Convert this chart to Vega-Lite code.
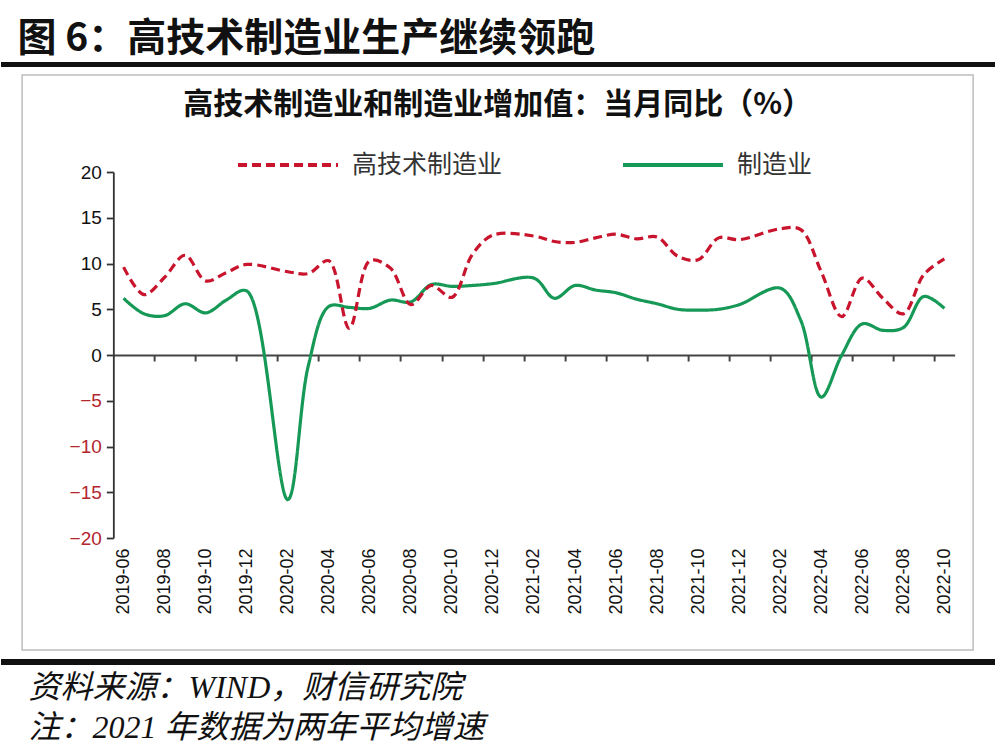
{
  "$schema": "https://vega.github.io/schema/vega-lite/v6.json",
  "padding": {"top": 19, "left": 0, "right": 0, "bottom": 0},
  "background": "white",
  "datasets": {
    "d": [
      {"month": "2019-06", "series": "制造业", "value": 6.2},
      {"month": "2019-07", "series": "制造业", "value": 4.5},
      {"month": "2019-08", "series": "制造业", "value": 4.3},
      {"month": "2019-09", "series": "制造业", "value": 5.6},
      {"month": "2019-10", "series": "制造业", "value": 4.6},
      {"month": "2019-11", "series": "制造业", "value": 6.0},
      {"month": "2019-12", "series": "制造业", "value": 7.0},
      {"month": "2020-02", "series": "制造业", "value": -15.8},
      {"month": "2020-03", "series": "制造业", "value": -1.2},
      {"month": "2020-04", "series": "制造业", "value": 5.3},
      {"month": "2020-05", "series": "制造业", "value": 5.2},
      {"month": "2020-06", "series": "制造业", "value": 5.1},
      {"month": "2020-07", "series": "制造业", "value": 6.0},
      {"month": "2020-08", "series": "制造业", "value": 5.8},
      {"month": "2020-09", "series": "制造业", "value": 7.7},
      {"month": "2020-10", "series": "制造业", "value": 7.5},
      {"month": "2020-11", "series": "制造业", "value": 7.6},
      {"month": "2020-12", "series": "制造业", "value": 7.8},
      {"month": "2021-02", "series": "制造业", "value": 8.4},
      {"month": "2021-03", "series": "制造业", "value": 6.2},
      {"month": "2021-04", "series": "制造业", "value": 7.6},
      {"month": "2021-05", "series": "制造业", "value": 7.1},
      {"month": "2021-06", "series": "制造业", "value": 6.8},
      {"month": "2021-07", "series": "制造业", "value": 6.1},
      {"month": "2021-08", "series": "制造业", "value": 5.6},
      {"month": "2021-09", "series": "制造业", "value": 5.0},
      {"month": "2021-10", "series": "制造业", "value": 4.9},
      {"month": "2021-11", "series": "制造业", "value": 5.0},
      {"month": "2021-12", "series": "制造业", "value": 5.5},
      {"month": "2022-02", "series": "制造业", "value": 7.3},
      {"month": "2022-03", "series": "制造业", "value": 3.8},
      {"month": "2022-04", "series": "制造业", "value": -4.6},
      {"month": "2022-05", "series": "制造业", "value": 0.0},
      {"month": "2022-06", "series": "制造业", "value": 3.4},
      {"month": "2022-07", "series": "制造业", "value": 2.7},
      {"month": "2022-08", "series": "制造业", "value": 3.0},
      {"month": "2022-09", "series": "制造业", "value": 6.4},
      {"month": "2022-10", "series": "制造业", "value": 5.1},
      {"month": "2019-06", "series": "高技术制造业", "value": 9.6},
      {"month": "2019-07", "series": "高技术制造业", "value": 6.6},
      {"month": "2019-08", "series": "高技术制造业", "value": 8.5},
      {"month": "2019-09", "series": "高技术制造业", "value": 10.9},
      {"month": "2019-10", "series": "高技术制造业", "value": 8.1},
      {"month": "2019-11", "series": "高技术制造业", "value": 9.0},
      {"month": "2019-12", "series": "高技术制造业", "value": 9.9},
      {"month": "2020-02", "series": "高技术制造业", "value": 9.1},
      {"month": "2020-03", "series": "高技术制造业", "value": 8.9},
      {"month": "2020-04", "series": "高技术制造业", "value": 10.3},
      {"month": "2020-05", "series": "高技术制造业", "value": 2.9},
      {"month": "2020-06", "series": "高技术制造业", "value": 10.3},
      {"month": "2020-07", "series": "高技术制造业", "value": 9.5},
      {"month": "2020-08", "series": "高技术制造业", "value": 5.5},
      {"month": "2020-09", "series": "高技术制造业", "value": 7.6},
      {"month": "2020-10", "series": "高技术制造业", "value": 6.3},
      {"month": "2020-11", "series": "高技术制造业", "value": 11.0},
      {"month": "2020-12", "series": "高技术制造业", "value": 13.1},
      {"month": "2021-02", "series": "高技术制造业", "value": 13.0},
      {"month": "2021-03", "series": "高技术制造业", "value": 12.4},
      {"month": "2021-04", "series": "高技术制造业", "value": 12.3},
      {"month": "2021-05", "series": "高技术制造业", "value": 12.8},
      {"month": "2021-06", "series": "高技术制造业", "value": 13.2},
      {"month": "2021-07", "series": "高技术制造业", "value": 12.7},
      {"month": "2021-08", "series": "高技术制造业", "value": 12.9},
      {"month": "2021-09", "series": "高技术制造业", "value": 10.8},
      {"month": "2021-10", "series": "高技术制造业", "value": 10.4},
      {"month": "2021-11", "series": "高技术制造业", "value": 12.8},
      {"month": "2021-12", "series": "高技术制造业", "value": 12.6},
      {"month": "2022-02", "series": "高技术制造业", "value": 13.8},
      {"month": "2022-03", "series": "高技术制造业", "value": 13.7},
      {"month": "2022-04", "series": "高技术制造业", "value": 9.1},
      {"month": "2022-05", "series": "高技术制造业", "value": 4.2},
      {"month": "2022-06", "series": "高技术制造业", "value": 8.4},
      {"month": "2022-07", "series": "高技术制造业", "value": 6.2},
      {"month": "2022-08", "series": "高技术制造业", "value": 4.5},
      {"month": "2022-09", "series": "高技术制造业", "value": 8.8},
      {"month": "2022-10", "series": "高技术制造业", "value": 10.5}
    ]
  },
  "title": {
    "text": "图 6：高技术制造业生产继续领跑",
    "anchor": "start",
    "dx": 17,
    "font": "Noto Sans CJK SC",
    "fontSize": 39,
    "fontWeight": "bold",
    "color": "#111111",
    "offset": 3
  },
  "spacing": 7,
  "center": true,
  "vconcat": [
    {
      "width": 994,
      "height": 5,
      "data": {"name": "d"},
      "view": {"fill": "#111111", "stroke": null},
      "mark": {"type": "rule", "opacity": 0},
      "encoding": {}
    },
    {
      "width": 951,
      "height": 575,
      "data": {"name": "d"},
      "view": {"stroke": "#bdbdbd", "strokeWidth": 1.5},
      "title": {
        "text": "高技术制造业和制造业增加值：当月同比（%）",
        "anchor": "middle",
        "font": "Noto Sans CJK SC",
        "fontSize": 30,
        "fontWeight": "bold",
        "color": "#111111",
        "offset": -45
      },
      "layer": [
        {
          "mark": {"type": "line", "interpolate": "catmull-rom", "strokeWidth": 3.2},
          "encoding": {
            "x": {
              "field": "month",
              "type": "ordinal",
              "scale": {
                "type": "point",
                "padding": 0.5,
                "range": [91.2, 932.5],
                "domain": ["2019-06","2019-07","2019-08","2019-09","2019-10","2019-11","2019-12","2020-01","2020-02","2020-03","2020-04","2020-05","2020-06","2020-07","2020-08","2020-09","2020-10","2020-11","2020-12","2021-01","2021-02","2021-03","2021-04","2021-05","2021-06","2021-07","2021-08","2021-09","2021-10","2021-11","2021-12","2022-01","2022-02","2022-03","2022-04","2022-05","2022-06","2022-07","2022-08","2022-09","2022-10"]
              },
              "axis": {
                "orient": "bottom",
                "offset": -112,
                "domain": false,
                "ticks": false,
                "grid": false,
                "labelAngle": -90,
                "labelPadding": 10,
                "labelFont": "Liberation Sans",
                "labelFontSize": 18,
                "labelColor": "#111111",
                "labelOverlap": false,
                "title": null,
                "values": ["2019-06","2019-08","2019-10","2019-12","2020-02","2020-04","2020-06","2020-08","2020-10","2020-12","2021-02","2021-04","2021-06","2021-08","2021-10","2021-12","2022-02","2022-04","2022-06","2022-08","2022-10"]
              }
            },
            "y": {
              "field": "value",
              "type": "quantitative",
              "scale": {"domain": [-20, 20], "range": [463, 97], "nice": false, "zero": false},
              "axis": {
                "orient": "left",
                "offset": -91.2,
                "values": [-20, -15, -10, -5, 0, 5, 10, 15, 20],
                "grid": false,
                "domainColor": "#333333",
                "domainWidth": 1.8,
                "tickColor": "#333333",
                "tickWidth": 1.8,
                "tickSize": 7,
                "labelPadding": 5,
                "labelFont": "Liberation Sans",
                "labelFontSize": 19,
                "labelColor": {"condition": {"test": "datum.value < 0", "value": "#b3262e"}, "value": "#111111"},
                "title": null
              }
            },
            "color": {
              "field": "series",
              "type": "nominal",
              "scale": {"domain": ["高技术制造业", "制造业"], "range": ["#c8142c", "#169956"]},
              "legend": {
                "orient": "none",
                "legendX": 235,
                "legendY": 51,
                "direction": "horizontal",
                "title": null,
                "symbolType": "stroke",
                "symbolSize": 10000,
                "symbolStrokeWidth": 3.8,
                "labelFont": "Noto Sans CJK SC",
                "labelFontSize": 25,
                "labelColor": "#333333",
                "labelOffset": 12,
                "columnPadding": 112,
                "labelLimit": 300
              }
            },
            "strokeDash": {
              "field": "series",
              "type": "nominal",
              "scale": {"domain": ["高技术制造业", "制造业"], "range": [[9, 5], [1, 0]]},
              "legend": {
                "orient": "none",
                "legendX": 235,
                "legendY": 51,
                "direction": "horizontal",
                "title": null,
                "symbolType": "stroke",
                "symbolSize": 10000,
                "symbolStrokeWidth": 3.8,
                "labelFont": "Noto Sans CJK SC",
                "labelFontSize": 25,
                "labelColor": "#333333",
                "labelOffset": 12,
                "columnPadding": 112,
                "labelLimit": 300
              }
            }
          }
        },
        {
          "mark": {"type": "point", "opacity": 0},
          "encoding": {
            "x": {
              "field": "month",
              "type": "ordinal",
              "scale": {
                "type": "point",
                "padding": 0.5,
                "range": [91.2, 932.5],
                "domain": ["2019-06","2019-07","2019-08","2019-09","2019-10","2019-11","2019-12","2020-01","2020-02","2020-03","2020-04","2020-05","2020-06","2020-07","2020-08","2020-09","2020-10","2020-11","2020-12","2021-01","2021-02","2021-03","2021-04","2021-05","2021-06","2021-07","2021-08","2021-09","2021-10","2021-11","2021-12","2022-01","2022-02","2022-03","2022-04","2022-05","2022-06","2022-07","2022-08","2022-09","2022-10"]
              },
              "axis": {
                "orient": "top",
                "offset": -280,
                "labels": false,
                "grid": false,
                "title": null,
                "domain": true,
                "domainColor": "#444444",
                "domainWidth": 2,
                "ticks": true,
                "tickSize": -6,
                "tickColor": "#444444",
                "tickWidth": 2,
                "tickOffset": 10.26,
                "values": ["2019-07","2019-09","2019-11","2020-01","2020-03","2020-05","2020-07","2020-09","2020-11","2021-01","2021-03","2021-05","2021-07","2021-09","2021-11","2022-01","2022-03","2022-05","2022-07","2022-09"]
              }
            },
            "y": {
              "field": "value",
              "type": "quantitative",
              "scale": {"domain": [-20, 20], "range": [463, 97], "nice": false, "zero": false},
              "axis": {
                "orient": "left",
                "offset": -91.2,
                "values": [-20, -15, -10, -5, 0, 5, 10, 15, 20],
                "grid": false,
                "domainColor": "#333333",
                "domainWidth": 1.8,
                "tickColor": "#333333",
                "tickWidth": 1.8,
                "tickSize": 7,
                "labelPadding": 5,
                "labelFont": "Liberation Sans",
                "labelFontSize": 19,
                "labelColor": {"condition": {"test": "datum.value < 0", "value": "#b3262e"}, "value": "#111111"},
                "title": null
              }
            }
          }
        }
      ],
      "resolve": {"axis": {"x": "independent"}}
    },
    {
      "width": 994,
      "height": 6,
      "data": {"name": "d"},
      "view": {"fill": "#111111", "stroke": null},
      "mark": {"type": "rule", "opacity": 0},
      "encoding": {},
      "title": {
        "text": ["资料来源：WIND，财信研究院", "注：2021 年数据为两年平均增速"],
        "orient": "bottom",
        "anchor": "start",
        "dx": 28,
        "offset": 8,
        "font": "Liberation Serif, Noto Sans CJK SC",
        "fontStyle": "italic",
        "fontWeight": "normal",
        "fontSize": 32,
        "lineHeight": 40,
        "color": "#111111"
      }
    }
  ]
}
